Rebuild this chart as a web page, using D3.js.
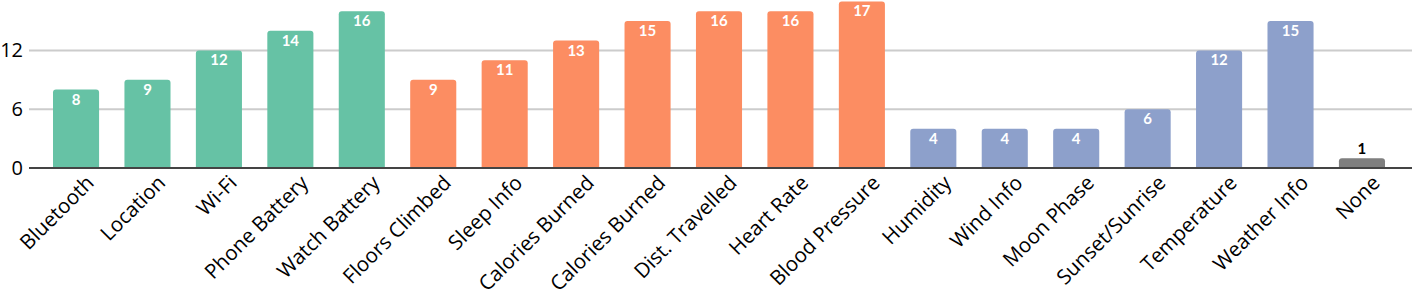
<!DOCTYPE html>
<html>
<head>
<meta charset="utf-8">
<script src="https://cdn.jsdelivr.net/npm/d3@7"></script>
<style>
  body { margin: 0; background: #fff; }
  svg { display: block; font-family: Lato, "Open Sans", sans-serif; }
</style>
</head>
<body>
<div class="chart"></div>
<script>
const categories = ["Bluetooth", "Location", "Wi-Fi", "Phone Battery", "Watch Battery",
  "Floors Climbed", "Sleep Info", "Calories Burned", "Calories Burned", "Dist. Travelled",
  "Heart Rate", "Blood Pressure", "Humidity", "Wind Info", "Moon Phase",
  "Sunset/Sunrise", "Temperature", "Weather Info", "None"]
const values = [8, 9, 12, 14, 16, 9, 11, 13, 15, 16, 16, 17, 4, 4, 4, 6, 12, 15, 1]
const groups = ["a", "a", "a", "a", "a", "b", "b", "b", "b", "b", "b", "b",
  "c", "c", "c", "c", "c", "c", "d"]
const yTicks = [0, 6, 12]

const colors = { a: "#66c2a5", b: "#fc8d62", c: "#8da0cb", d: "#7f7f7f" }

const w = 1412
const h = 295
const margin = { top: 2, bottom: 127, left: 29, right: 0 }
const base = h - margin.bottom

const data = categories.map((c, i) => ({ key: i, name: c, value: values[i], group: groups[i] }))

const xScale = d3.scaleBand()
  .domain(data.map(d => d.key))
  .range([53, 1385])
  .paddingInner(0.355)
  .paddingOuter(0)

const yScale = d3.scaleLinear()
  .domain([0, 17])
  .range([base, base - 17 * 9.8])

const svg = d3.select(".chart")
  .append("svg")
  .attr("width", w)
  .attr("height", h)

// gridlines
svg.append("g")
  .selectAll("line")
  .data(yTicks.filter(t => t > 0))
  .enter()
  .append("line")
  .attr("x1", margin.left)
  .attr("x2", w)
  .attr("y1", d => yScale(d))
  .attr("y2", d => yScale(d))
  .attr("stroke", "#cccccc")
  .attr("stroke-width", 2)

const yAxis = d3.axisLeft(yScale).tickValues(yTicks).tickSize(0).tickPadding(6)
svg.append("g")
  .attr("transform", `translate(${margin.left}, 0)`)
  .call(yAxis)
  .call(g => g.select(".domain").remove())
  .call(g => g.selectAll("text")
    .attr("font-size", 20)
    .attr("font-family", "'Open Sans', sans-serif")
    .attr("fill", "#000"))

// bars with rounded tops
const r = 3
svg.append("g")
  .selectAll("path")
  .data(data)
  .enter()
  .append("path")
  .attr("fill", d => colors[d.group])
  .attr("d", d => {
    const x0 = xScale(d.key), x1 = x0 + xScale.bandwidth()
    const y0 = yScale(d.value), y1 = base
    return `M${x0},${y1}V${y0 + r}Q${x0},${y0} ${x0 + r},${y0}H${x1 - r}Q${x1},${y0} ${x1},${y0 + r}V${y1}Z`
  })

// value labels
svg.append("g")
  .selectAll("text")
  .data(data)
  .enter()
  .append("text")
  .attr("x", d => xScale(d.key) + xScale.bandwidth() / 2)
  .attr("y", d => d.value > 2 ? yScale(d.value) + 15 : yScale(d.value) - 4)
  .attr("text-anchor", "middle")
  .attr("font-size", 15)
  .attr("font-weight", "bold")
  .attr("fill", d => d.value > 2 ? "#fff" : "#000")
  .text(d => d.value)

// baseline
svg.append("line")
  .attr("x1", margin.left)
  .attr("x2", w)
  .attr("y1", base)
  .attr("y2", base)
  .attr("stroke", "#444")
  .attr("stroke-width", 2)

// category labels
svg.append("g")
  .selectAll("text")
  .data(data)
  .enter()
  .append("text")
  .attr("transform", d => `translate(${xScale(d.key) + xScale.bandwidth() / 2 + 9}, ${base + 6}) rotate(-45)`)
  .attr("text-anchor", "end")
  .attr("dy", "0.7em")
  .attr("font-size", 20.5)
  .attr("font-family", "'Open Sans', sans-serif")
  .attr("fill", "#000")
  .text(d => d.name)
</script>
</body>
</html>
